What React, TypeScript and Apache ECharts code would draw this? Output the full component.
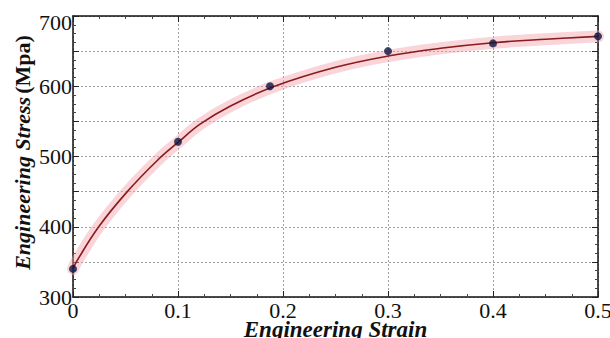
import React, { useEffect, useRef } from "react";
import * as echarts from "echarts";

const strainTicks = [0, 0.1, 0.2, 0.3, 0.4, 0.5];
const stressTickLabels = [300, 400, 500, 600, 700];

const measuredStrain = [0, 0.1, 0.1876, 0.3, 0.4, 0.5];
const measuredStress = [340, 521, 600, 650, 661, 671];

const fitStrain = [0, 0.0032, 0.0245, 0.0517, 0.08, 0.1, 0.121, 0.15, 0.192, 0.25, 0.3, 0.35, 0.4, 0.45, 0.5];
const fitStress = [340, 350, 400, 450, 494, 520, 546, 572, 600, 627, 643, 654, 662, 667, 671];

const FONT = "Liberation Serif";

export default function App() {
  const ref = useRef<HTMLDivElement>(null);
  useEffect(() => {
    if (!ref.current) return;
    const chart = echarts.init(ref.current, undefined, { renderer: "svg" });
    const fit = fitStrain.map((x, i) => [x, fitStress[i]]);
    const pts = measuredStrain.map((x, i) => [x, measuredStress[i]]);
    const tickStyle = { show: true, inside: true, length: 6, lineStyle: { color: "#222", width: 1 } };
    const minorTick = { show: true, splitNumber: 4, length: 3, lineStyle: { color: "#444", width: 1 } };
    const axisLine = { show: true, onZero: false, lineStyle: { color: "#111", width: 1.5 } };
    const gridLine = { show: true, lineStyle: { color: "#a0a0a0", type: [2, 2] as any, width: 1 } };
    chart.setOption({
      animation: false,
      backgroundColor: "#fff",
      textStyle: { fontFamily: FONT },
      grid: { left: 73, right: 12, top: 16, bottom: 41, containLabel: false, outerBoundsMode: "none" },
      xAxis: [
        {
          type: "value",
          min: strainTicks[0],
          max: strainTicks[strainTicks.length - 1],
          interval: 0.1,
          position: "bottom",
          axisLine,
          axisTick: tickStyle,
          minorTick,
          splitLine: gridLine,
          axisLabel: {
            color: "#111",
            fontFamily: FONT,
            fontSize: 22,
            margin: 2,
            formatter: (v: number) => String(Math.round(v * 10) / 10),
          },
          name: "Engineering Strain",
          nameLocation: "middle",
          nameGap: 21,
          nameMoveOverlap: false,
          nameTextStyle: {
            fontFamily: FONT,
            fontSize: 23,
            fontWeight: "bold",
            fontStyle: "italic",
            color: "#111",
          },
        },
        {
          type: "value",
          min: 0,
          max: 0.5,
          interval: 0.1,
          position: "top",
          axisLine,
          axisTick: tickStyle,
          minorTick,
          splitLine: { show: false },
          axisLabel: { show: false },
        },
      ],
      yAxis: [
        {
          type: "value",
          min: stressTickLabels[0],
          max: stressTickLabels[stressTickLabels.length - 1],
          interval: 50,
          position: "left",
          axisLine,
          axisTick: tickStyle,
          minorTick,
          splitLine: gridLine,
          axisLabel: {
            color: "#111",
            fontFamily: FONT,
            fontSize: 22,
            margin: 1,
            formatter: (v: number) =>
              stressTickLabels.includes(v) ? (v === 700 ? "{m|" + v + "}" : String(v)) : "",
            rich: { m: { fontFamily: FONT, fontSize: 22, color: "#111", padding: [12, 0, 0, 0] } },
          },
          name: "{i|Engineering Stress} {b|(Mpa)}",
          nameLocation: "middle",
          nameGap: 40,
          nameMoveOverlap: false,
          nameTextStyle: {
            padding: [0, 0, 0, 8],
            rich: {
              i: { fontFamily: FONT, fontSize: 22, fontWeight: "bold", fontStyle: "italic", color: "#111" },
              b: { fontFamily: FONT, fontSize: 22, fontWeight: "bold", color: "#111" },
            },
          },
        },
        {
          type: "value",
          min: 300,
          max: 700,
          interval: 50,
          position: "right",
          axisLine,
          axisTick: tickStyle,
          minorTick,
          splitLine: { show: false },
          axisLabel: { show: false },
        },
      ],
      series: [
        {
          type: "line",
          data: fit,
          smooth: 0.4,
          symbol: "none",
          lineStyle: { color: "rgba(242,160,170,0.45)", width: 12, cap: "round" },
          z: 2,
        },
        {
          type: "line",
          data: fit,
          smooth: 0.4,
          symbol: "none",
          lineStyle: { color: "#8b1a1a", width: 1.6 },
          z: 3,
        },
        {
          type: "scatter",
          data: pts,
          symbolSize: 8,
          itemStyle: { color: "#0b1440" },
          clip: false,
          z: 4,
        },
      ],
    });
    return () => chart.dispose();
  }, []);
  return <div ref={ref} style={{ width: 610, height: 338, position: "absolute", left: 0, top: 0 }} />;
}
